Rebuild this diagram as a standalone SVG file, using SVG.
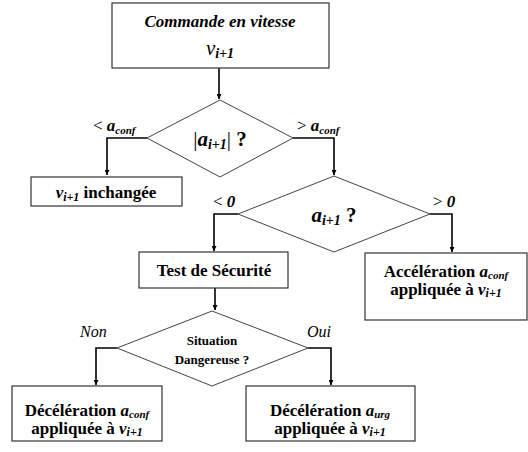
<svg xmlns="http://www.w3.org/2000/svg" width="528" height="452" viewBox="0 0 528 452">
<style>
.box{fill:#fff;stroke:#333;stroke-width:1.2}
.dia{fill:#fff;stroke:#444;stroke-width:1}
.c{fill:none;stroke:#000;stroke-width:1.6}
text{font-family:"Times New Roman","Liberation Serif",Tinos,"DejaVu Serif",Georgia,serif;font-weight:bold;fill:#000}
.t{font-size:16px;text-anchor:middle}
.i{font-style:italic}
.s{font-size:11px;font-style:italic}
</style>
<defs>
<marker id="ah" viewBox="0 0 10 10" refX="10" refY="5" markerWidth="5" markerHeight="5" orient="auto" markerUnits="userSpaceOnUse">
<path d="M0,0 L10,5 L0,10 Z" fill="#000"/>
</marker>
</defs>
<rect width="528" height="452" fill="#fff"/>
<g id="connectors">
<path class="c" d="M219,68 V99" marker-end="url(#ah)"/>
<path class="c" d="M147,138 H107 V175" marker-end="url(#ah)"/>
<path class="c" d="M293,138 H334 V175" marker-end="url(#ah)"/>
<path class="c" d="M238,214 H214 V251" marker-end="url(#ah)"/>
<path class="c" d="M430,214 H452 V252" marker-end="url(#ah)"/>
<path class="c" d="M215,288 V310" marker-end="url(#ah)"/>
<path class="c" d="M117,348 H96 V385" marker-end="url(#ah)"/>
<path class="c" d="M308,348 H331 V385" marker-end="url(#ah)"/>
<text x="93" y="131" style="font-size:17px"><tspan style="font-weight:normal">&lt;</tspan> <tspan class="i">a</tspan><tspan class="s" dy="3">conf</tspan></text>
<text x="297" y="131" style="font-size:17px"><tspan style="font-weight:normal">&gt;</tspan> <tspan class="i">a</tspan><tspan class="s" dy="3">conf</tspan></text>
<text x="213" y="207" style="font-size:17px"><tspan style="font-weight:normal">&lt;</tspan> <tspan class="i">0</tspan></text>
<text x="433" y="207" style="font-size:17px"><tspan style="font-weight:normal">&gt;</tspan> <tspan class="i">0</tspan></text>
<text x="80" y="337" class="i" style="font-size:16px;font-weight:normal">Non</text>
<text x="307" y="337" class="i" style="font-size:16px;font-weight:normal">Oui</text>
</g>
<g id="n-commande">
<rect class="box" x="112" y="3" width="217" height="65"/>
<text x="220" y="27" class="t i" style="font-size:17px">Commande en vitesse</text>
<text x="220" y="55" class="t"><tspan class="i" style="font-size:21px;font-weight:normal">v</tspan><tspan class="s" style="font-size:14px" dy="3">i+1</tspan></text>
</g>
<g id="n-abs">
<polygon class="dia" points="220,100 293,138 220,177 147,138"/>
<text x="220" y="146" class="t" style="font-size:21px"><tspan style="font-weight:normal">|</tspan><tspan class="i">a</tspan><tspan class="s" style="font-size:14px" dy="3">i+1</tspan><tspan dy="-3" style="font-weight:normal">|</tspan> ?</text>
</g>
<g id="n-inchangee">
<rect class="box" x="31" y="177" width="151" height="29"/>
<text x="106" y="198" class="t" style="font-size:17px"><tspan class="i">v</tspan><tspan class="s" style="font-size:12px" dy="3">i+1</tspan><tspan dy="-3"> inchangée</tspan></text>
</g>
<g id="n-signe">
<polygon class="dia" points="334,176 430,214 334,252 238,214"/>
<text x="334" y="222" class="t" style="font-size:21px"><tspan class="i">a</tspan><tspan class="s" style="font-size:14px" dy="3">i+1</tspan><tspan dy="-3"> ?</tspan></text>
</g>
<g id="n-test">
<rect class="box" x="139" y="252" width="149" height="36"/>
<text x="214" y="276" class="t" style="font-size:17px">Test de Sécurité</text>
</g>
<g id="n-acceleration">
<rect class="box" x="365" y="253" width="162" height="67"/>
<text x="446" y="277" class="t" style="font-size:17px">Accélération <tspan class="i">a</tspan><tspan class="s" dy="2">conf</tspan></text>
<text x="446" y="295" class="t" style="font-size:17px">appliquée à <tspan class="i">v</tspan><tspan class="s" style="font-size:12px" dy="2">i+1</tspan></text>
</g>
<g id="n-situation">
<polygon class="dia" points="212,311 308,348 212,386 117,348"/>
<text x="212" y="345" class="t" style="font-size:13px">Situation</text>
<text x="212" y="364" class="t" style="font-size:13px">Dangereuse ?</text>
</g>
<g id="n-decel-conf">
<rect class="box" x="12" y="386" width="150" height="55"/>
<text x="87" y="416" class="t" style="font-size:17px">Décélération <tspan class="i">a</tspan><tspan class="s" dy="2">conf</tspan></text>
<text x="87" y="434" class="t" style="font-size:17px">appliquée à <tspan class="i">v</tspan><tspan class="s" style="font-size:12px" dy="2">i+1</tspan></text>
</g>
<g id="n-decel-urg">
<rect class="box" x="246" y="386" width="169" height="55"/>
<text x="330" y="416" class="t" style="font-size:17px">Décélération <tspan class="i">a</tspan><tspan class="s" dy="2">urg</tspan></text>
<text x="330" y="434" class="t" style="font-size:17px">appliquée à <tspan class="i">v</tspan><tspan class="s" style="font-size:12px" dy="2">i+1</tspan></text>
</g>
</svg>
